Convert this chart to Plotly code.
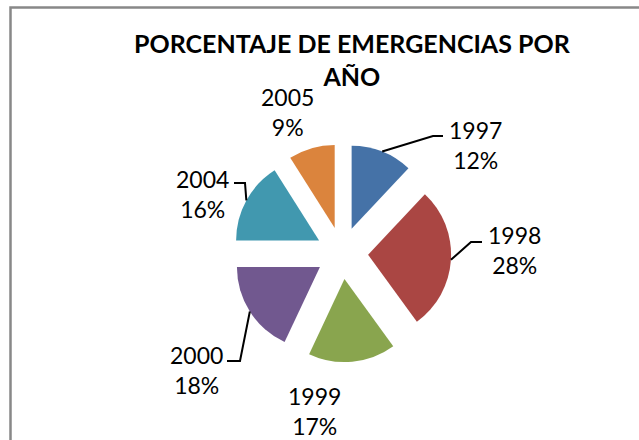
import math
import plotly.graph_objects as go

# Emergency share per year
years = ["1997", "1998", "1999", "2000", "2004", "2005"]
percent = [12, 28, 17, 18, 16, 9]
colors = ["#4572A7", "#AA4643", "#89A54E", "#71588F", "#4198AF", "#DB843D"]

W, H = 639, 440
# pie geometry in pixels
CX, CY = 342, 253
R = 83
PULL = 0.315
HALF = R * (1 + PULL)


def px(x):
    return x / W


def py(y):
    return 1 - y / H


fig = go.Figure(go.Pie(
    labels=years,
    values=percent,
    sort=False,
    direction="clockwise",
    rotation=0,
    pull=[PULL] * len(years),
    marker=dict(colors=colors, line=dict(width=0)),
    textinfo="none",
    hoverinfo="label+percent",
    showlegend=False,
    domain=dict(x=[px(CX - HALF), px(CX + HALF)],
                y=[py(CY + HALF), py(CY - HALF)]),
))

# outer-edge point of each exploded slice on its bisector
total = sum(percent)
edge = {}
acc = 0
for name, v in zip(years, percent):
    mid = (acc + v / 2) / total * 2 * math.pi
    acc += v
    ox = CX + R * PULL * math.sin(mid)
    oy = CY - R * PULL * math.cos(mid)
    edge[name] = (ox + R * math.sin(mid), oy - R * math.cos(mid))

# label text positions (center x, center y) and elbow / end of leader lines
labels = {
    "1997": dict(pos=(475, 145), path=[(433, 136), (443, 136)]),
    "1998": dict(pos=(514, 250), path=[(471, 242), (482, 242)]),
    "1999": dict(pos=(314, 411), path=None),
    "2000": dict(pos=(196, 370), path=[(240, 361), (227, 361)]),
    "2004": dict(pos=(203, 194), path=[(245, 183), (234, 183)]),
    "2005": dict(pos=(287, 112), path=None),
}

font = dict(family="Lato, Calibri, sans-serif", size=23, color="#000000")
annotations = []
shapes = []
for name, v in zip(years, percent):
    cfg = labels[name]
    x, y = cfg["pos"]
    annotations.append(dict(
        text=f"{name}<br>{v}%", x=px(x), y=py(y), xref="paper", yref="paper",
        showarrow=False, font=font, align="center",
        xanchor="center", yanchor="middle",
    ))
    if cfg["path"]:
        pts = [edge[name]] + cfg["path"]
        d = "M " + " L ".join(f"{px(a)},{py(b)}" for a, b in pts)
        shapes.append(dict(type="path", path=d, xref="paper", yref="paper",
                           line=dict(color="#000000", width=2)))

# chart title
annotations.append(dict(
    text="<b>PORCENTAJE DE EMERGENCIAS POR<br>AÑO</b>",
    x=px(352), y=py(60), xref="paper", yref="paper", showarrow=False,
    font=dict(family="Lato, Calibri, sans-serif", size=25, color="#000000"),
    align="center", xanchor="center", yanchor="middle",
))

# chart area border
shapes.append(dict(type="rect", xref="paper", yref="paper",
                   x0=px(10.5), x1=px(660), y0=py(470), y1=py(7.5),
                   line=dict(color="#888888", width=2.5)))

fig.update_layout(
    width=W, height=H,
    margin=dict(l=0, r=0, t=0, b=0),
    paper_bgcolor="#FFFFFF",
    plot_bgcolor="#FFFFFF",
    annotations=annotations,
    shapes=shapes,
)

fig.write_html("out.html")
